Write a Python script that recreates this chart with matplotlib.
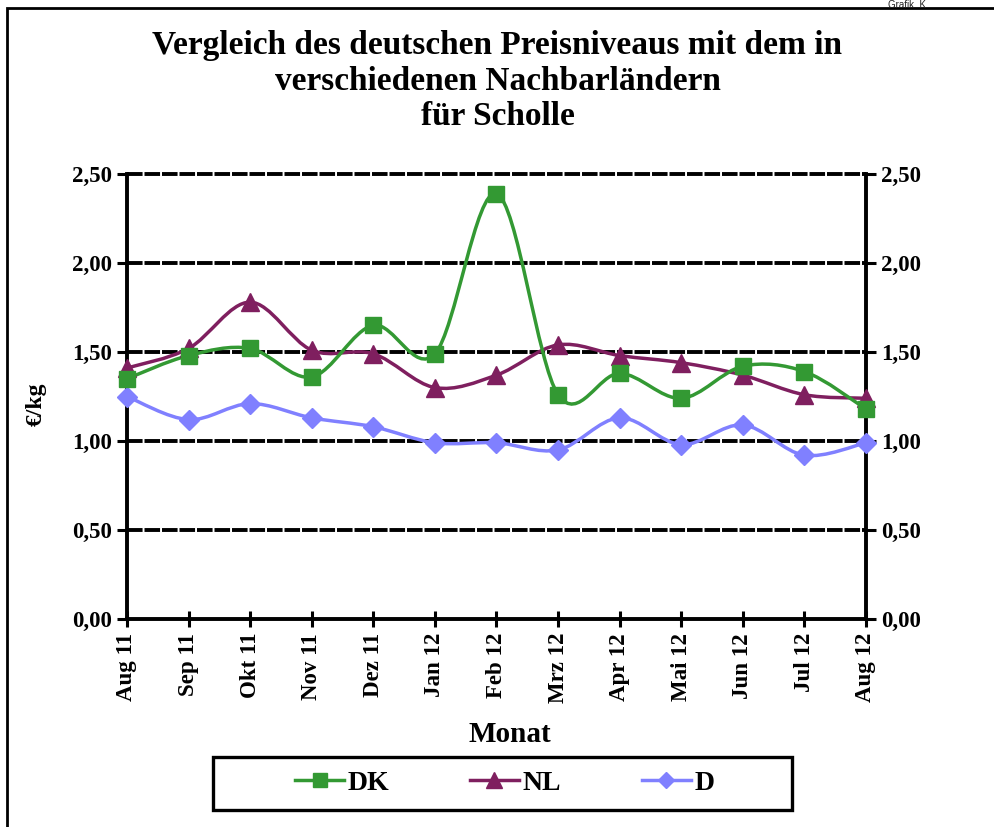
import numpy as np
import matplotlib
matplotlib.use("Agg")
import matplotlib.pyplot as plt
from matplotlib.path import Path
from matplotlib.patches import PathPatch, Rectangle
from matplotlib.lines import Line2D

months = ["Aug 11", "Sep 11", "Okt 11", "Nov 11", "Dez 11", "Jan 12", "Feb 12",
          "Mrz 12", "Apr 12", "Mai 12", "Jun 12", "Jul 12", "Aug 12"]
dk = [1.35, 1.48, 1.52, 1.36, 1.65, 1.49, 2.39, 1.26, 1.38, 1.24, 1.42, 1.39, 1.18]
nl = [1.41, 1.52, 1.78, 1.51, 1.49, 1.30, 1.37, 1.54, 1.48, 1.44, 1.37, 1.26, 1.24]
de = [1.25, 1.12, 1.21, 1.13, 1.08, 0.99, 0.99, 0.95, 1.13, 0.98, 1.09, 0.92, 0.99]
yticks = [0.0, 0.5, 1.0, 1.5, 2.0, 2.5]

serif = "Liberation Serif"
W, H = 995, 827


def smooth_path(x, y):
    # Excel-style smoothed line: cubic Bezier segments through the points
    p = np.column_stack([x, y]).astype(float)
    ext = np.vstack([p[0], p, p[-1]])
    verts = [p[0]]
    codes = [Path.MOVETO]
    for i in range(len(p) - 1):
        p0, p1, p2, p3 = ext[i], ext[i + 1], ext[i + 2], ext[i + 3]
        c1 = p1 + (p2 - p0) / 6.0
        c2 = p2 - (p3 - p1) / 6.0
        verts += [c1, c2, p2]
        codes += [Path.CURVE4] * 3
    return Path(verts, codes)


fig = plt.figure(figsize=(W / 100, H / 100), dpi=100)
ax = fig.add_axes([127 / W, 1 - 619 / H, (866 - 127) / W, (619 - 174) / H])

x = np.arange(len(months))
series = [
    ("DK", dk, "#339933", "s", 12),
    ("NL", nl, "#7f1f5f", "^", 13),
    ("D", de, "#8080ff", "D", 10),
]
for name, vals, col, mk, ms in series[::-1]:
    ax.add_patch(PathPatch(smooth_path(x, vals), fill=False, edgecolor=col,
                           lw=2.5, zorder=3, clip_on=False))
    ax.plot(x, vals, linestyle="none", marker=mk, ms=ms, color=col,
            markeredgecolor=col, zorder=4, clip_on=False)
handles = [Line2D([], [], color=col, lw=2.5, marker=mk, ms=ms * 0.85,
                  markeredgecolor=col, label=name)
           for name, vals, col, mk, ms in series]

ax.set_xlim(0, 12)
ax.set_ylim(0, 2.5)
ax.set_yticks(yticks)
ylabels = [f"{v:.2f}".replace(".", ",") for v in yticks]
ax.set_yticklabels(ylabels)
ax.set_xticks(x)
ax.set_xticklabels(months, rotation=90)
for v in yticks[1:]:
    ax.axhline(v, color="black", lw=2.8, linestyle=(0, (4, 0.5)), zorder=1,
               clip_on=False)

ax.spines["top"].set_visible(False)
for s in ("left", "right", "bottom"):
    ax.spines[s].set_linewidth(2.8)
ax.tick_params(axis="y", direction="out", length=7, width=2.2,
               left=True, right=True, labelleft=True, labelright=True, pad=4)
ax.tick_params(axis="x", direction="inout", length=12, width=2.2, pad=4)
for t in ax.yaxis.get_major_ticks():
    for lab in (t.label1, t.label2):
        lab.set_fontfamily(serif)
        lab.set_fontweight("bold")
        lab.set_fontsize(16.5)
for lab in ax.get_xticklabels():
    lab.set_fontfamily(serif)
    lab.set_fontweight("bold")
    lab.set_fontsize(16.5)

fig.text(510 / W, 1 - 735 / H, "Monat", ha="center", va="center",
         fontfamily=serif, fontweight="bold", fontsize=21)
fig.text(36 / W, 1 - 404 / H, "€/kg", ha="center", va="center", rotation=90,
         fontfamily=serif, fontweight="bold", fontsize=17)

fig.text(0.5, 1 - 81 / H, "Vergleich des deutschen Preisniveaus mit dem in\n"
         "verschiedenen Nachbarländern\nfür Scholle",
         ha="center", va="center", fontfamily=serif, fontweight="bold",
         fontsize=24, linespacing=1.2)

# legend: box drawn separately so it can be wider than its entries
fig.patches.append(Rectangle((213 / W, 1 - 810 / H), (792 - 213) / W, 53 / H,
                             transform=fig.transFigure, fill=False,
                             edgecolor="black", lw=2.4, zorder=5))
fig.legend(handles=handles, loc="center", bbox_to_anchor=(505 / W, 1 - 783 / H),
           ncol=3, frameon=False,
           prop={"family": serif, "weight": "bold", "size": 20},
           handlelength=1.75, handletextpad=0.15, columnspacing=2.9)

fig.patches.append(Rectangle((7 / W, -0.05), 1.1, 1 - 8 / H + 0.05,
                             transform=fig.transFigure, fill=False,
                             edgecolor="black", lw=2, zorder=0))
fig.text(0.892, 0.9995, "Grafik  K", ha="left", va="top",
         fontfamily="Liberation Sans", fontsize=7, color="#222222")

fig.savefig("out.png", dpi=100)
